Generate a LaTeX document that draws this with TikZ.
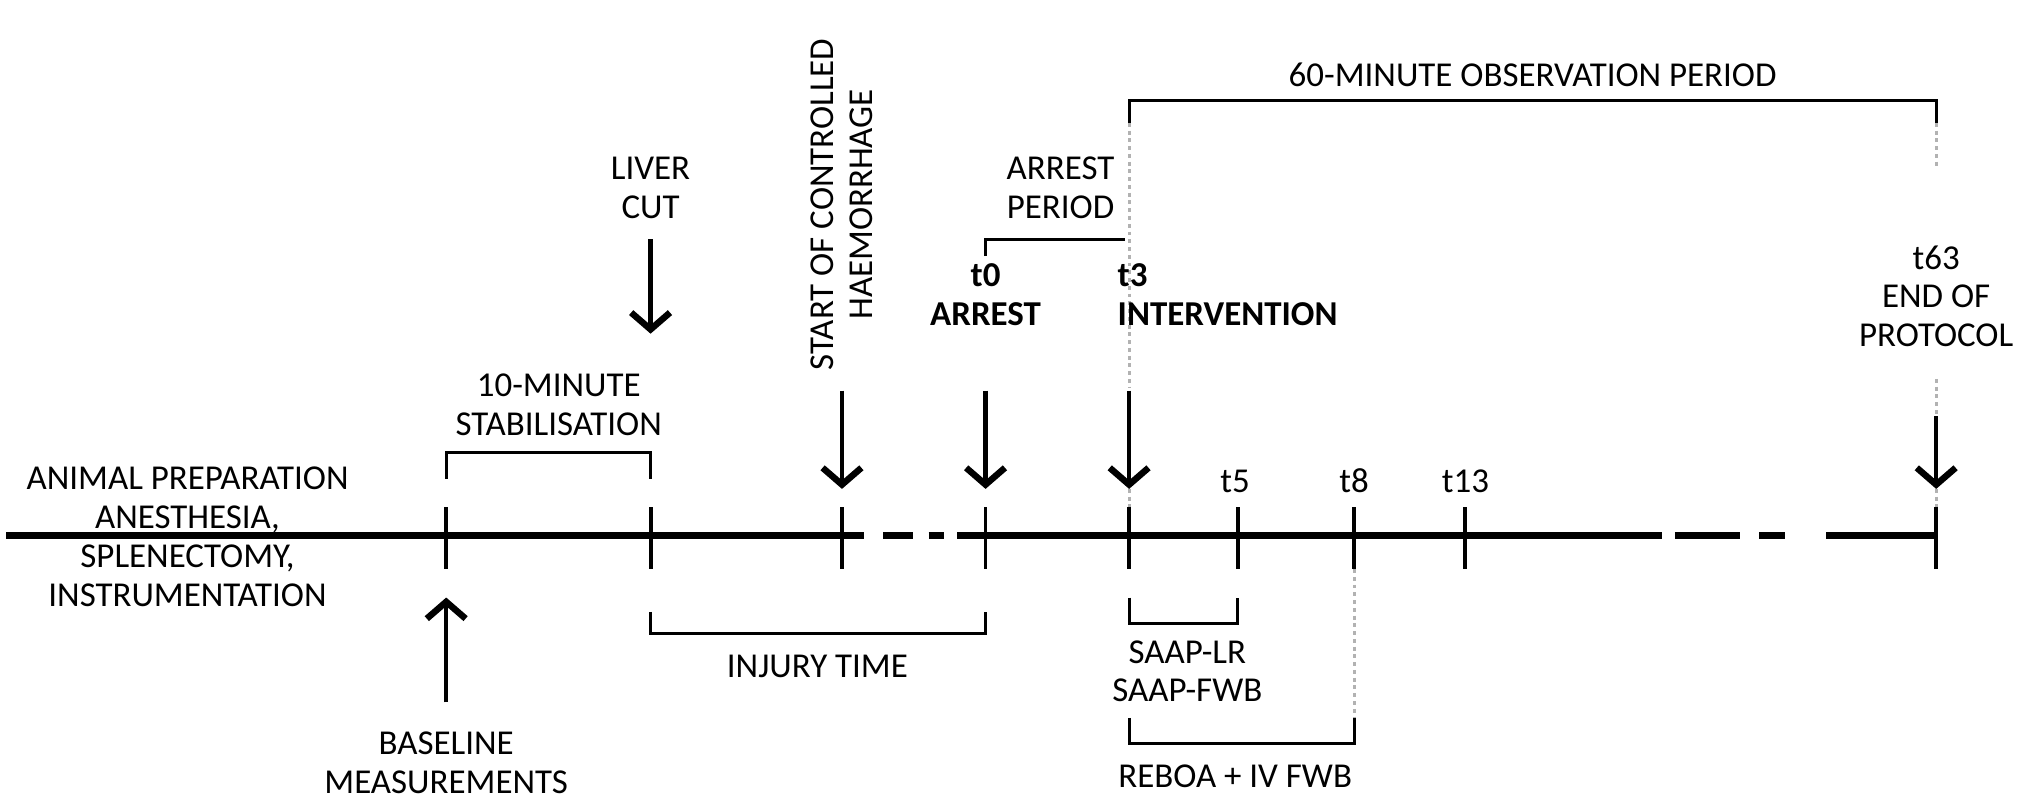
\documentclass[tikz,border=0pt]{standalone}
\usepackage{fontspec}
\setmainfont{Carlito}
\usetikzlibrary{arrows.meta}
\begin{document}
\begin{tikzpicture}[x=1pt,y=-1pt,
  txt/.style={font=\fontsize{27}{30}\selectfont,align=center,inner sep=0pt},
  bld/.style={txt,font=\fontsize{27}{30}\selectfont\bfseries},
  axis/.style={line width=5pt},
  tick/.style={line width=3pt},
  brk/.style={line width=2.5pt},
  arr/.style={line width=3.5pt,-{Straight Barb[length=13pt,width=30pt,line width=5pt]}},
  dot/.style={gray!60,line width=2.5pt,dash pattern=on 3pt off 3pt}]
\useasboundingbox (0,0) rectangle (1568,618);
% axis
\coordinate (A0) at (5,414); \coordinate (A1) at (668,414);
\draw[axis] (A0) -- (A1);
\draw[axis] (683,414) -- (706,414) (718,414) -- (730,414);
\draw[axis] (740,414) -- (1285,414);
\draw[axis] (1295,414) -- (1345,414) (1360,414) -- (1380,414);
\draw[axis] (1412,414) -- (1497,414);
\foreach \x in {345,503,651,762,873,957,1047,1133,1497}
  \draw[tick] (\x,392) -- (\x,440);
% gray dotted
\draw[dot] (873,95) -- (873,300);
\draw[dot] (873,378) -- (873,392);
\draw[dot] (1497,95) -- (1497,130);
\draw[dot] (1497,293) -- (1497,320);
\draw[dot] (1497,372) -- (1497,392);
\draw[dot] (1047,440) -- (1047,555);
% left text
\node[txt] (prep) at (145,415) {ANIMAL PREPARATION\\ANESTHESIA,\\SPLENECTOMY,\\INSTRUMENTATION};
% stabilisation
\draw[brk] (345,370) -- (345,350) -- (503,350) -- (503,370);
\node[txt] (stab) at (432,313) {10-MINUTE\\STABILISATION};
% liver cut
\node[txt] (liver) at (503,145) {LIVER\\CUT};
\coordinate (lv1) at (503,185); \coordinate (lv2) at (503,258);
\draw[arr] (lv1) -- (lv2);
% haemorrhage
\node[txt,rotate=90] (haem) at (651,158) {START OF CONTROLLED\\HAEMORRHAGE};
\coordinate (h1) at (651,302); \coordinate (h2) at (651,378);
\draw[arr] (h1) -- (h2);
% t0
\node[bld] (t0) at (762,228) {t0\\ARREST};
\coordinate (t01) at (762,302); \coordinate (t02) at (762,378);
\draw[arr] (t01) -- (t02);
% arrest period
\draw[brk] (762,198) -- (762,185) -- (870,185);
\node[txt] (ap) at (820,145) {ARREST\\PERIOD};
% t3
\node[bld,align=left,anchor=west] (t3) at (864,228) {t3\\INTERVENTION};
\coordinate (t31) at (873,302); \coordinate (t32) at (873,378);
\draw[arr] (t31) -- (t32);
% 60-min
\draw[brk] (873,95) -- (873,78) -- (1497,78) -- (1497,95);
\node[txt] (obs) at (1185,58) {60-MINUTE OBSERVATION PERIOD};
% t63
\node[txt] (t63) at (1497,229) {t63\\END OF\\PROTOCOL};
\coordinate (e1) at (1497,322); \coordinate (e2) at (1497,378);
\draw[arr] (e1) -- (e2);
% small labels
\node[txt] (t5) at (955,372) {t5};
\node[txt] (t8) at (1047,372) {t8};
\node[txt] (t13) at (1133,372) {t13};
% baseline
\coordinate (b1) at (345,543); \coordinate (b2) at (345,462);
\draw[arr] (b1) -- (b2);
\node[txt] (base) at (345,590) {BASELINE\\MEASUREMENTS};
% injury
\draw[brk] (503,473) -- (503,490) -- (762,490) -- (762,473);
\node[txt] (inj) at (632,515) {INJURY TIME};
% SAAP
\draw[brk] (873,462) -- (873,482) -- (957,482) -- (957,462);
\node[txt] (saap) at (918,519) {SAAP-LR\\SAAP-FWB};
% REBOA
\draw[brk] (873,555) -- (873,575) -- (1047,575) -- (1047,555);
\node[txt] (reboa) at (955,600) {REBOA + IV FWB};
\end{tikzpicture}
\end{document}
